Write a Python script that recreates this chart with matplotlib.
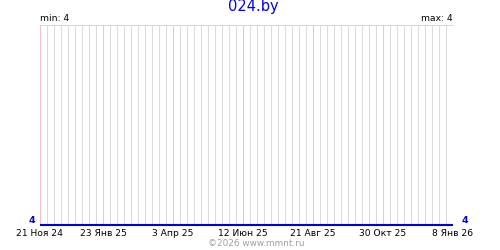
import matplotlib
matplotlib.use("Agg")
import matplotlib.pyplot as plt
import matplotlib.dates as mdates
import matplotlib.transforms as mtrans
import numpy as np
import pandas as pd

title = "024.by"
dates = ["2024-11-21", "2026-01-08"]
values = [4, 4]
tick_dates = ["2024-11-21", "2025-01-23", "2025-04-03", "2025-06-12",
              "2025-08-21", "2025-10-30", "2026-01-08"]
tick_labels = ["21 Ноя 24", "23 Янв 25", "3 Апр 25", "12 Июн 25",
               "21 Авг 25", "30 Окт 25", "8 Янв 26"]
footer = "©2026 www.mmnt.ru"

plt.rcParams['font.family'] = ['DejaVu Sans']

x = mdates.date2num(pd.to_datetime(dates))
xt = mdates.date2num(pd.to_datetime(tick_dates))
vmin, vmax = min(values), max(values)

fig = plt.figure(figsize=(5, 2.5), dpi=100)
ax = fig.add_axes([40/500, 25/250, 413/500, 200/250])
ax.set_xlim(xt[0], xt[-1])
ax.set_ylim(vmin, vmin + 1)

# weekly grid lines (gray) and label-date lines (pink)
weeks = mdates.WeekdayLocator(byweekday=mdates.TH).tick_values(
    mdates.num2date(xt[0]), mdates.num2date(xt[-1]))
for w in weeks:
    if np.min(np.abs(xt - w)) > 0.5:
        ax.axvline(w, color='#dadada', linewidth=0.72, zorder=1, snap=True)
for xv in xt:
    ax.axvline(xv, color='#ffbcbc', linewidth=0.72, zorder=2, snap=True)

ax.set_xticks(xt)
ax.set_xticklabels(tick_labels, fontsize=6.6)
ax.tick_params(axis='x', which='both', length=0, pad=3.2)
ax.set_yticks([])
for s in ['left', 'right', 'bottom']:
    ax.spines[s].set_visible(False)
ax.spines['top'].set_color('#d8d8d8')
ax.spines['top'].set_linewidth(0.72)

ax.plot(x, values, color='#0000dd', linewidth=1.5, clip_on=False, zorder=5,
        solid_capstyle='butt')

tr = mtrans.blended_transform_factory(ax.transAxes, ax.transData)
ax.text(-0.012, values[0], f"{values[0]}", color='#0000dd', fontsize=6.8,
        fontweight='bold', ha='right', va='bottom', transform=tr)
ax.text(1.02, values[-1], f"{values[-1]}", color='#0000dd', fontsize=6.8,
        fontweight='bold', ha='left', va='bottom', transform=tr)

ax.text(0.0, 1.01, f"min: {vmin}", fontsize=6.6, ha='left', va='bottom',
        transform=ax.transAxes)
ax.text(1.0, 1.01, f"max: {vmax}", fontsize=6.6, ha='right', va='bottom',
        transform=ax.transAxes)

fig.text(253/500, 1 - 11.5/250, title, color='#0000ee', fontsize=10.5,
         ha='center', va='baseline')
fig.text(256/500, 1 - 246/250, footer, color='#a0a0a0', fontsize=6.4,
         ha='center', va='baseline')

fig.savefig("out.png", dpi=100, facecolor='white')
